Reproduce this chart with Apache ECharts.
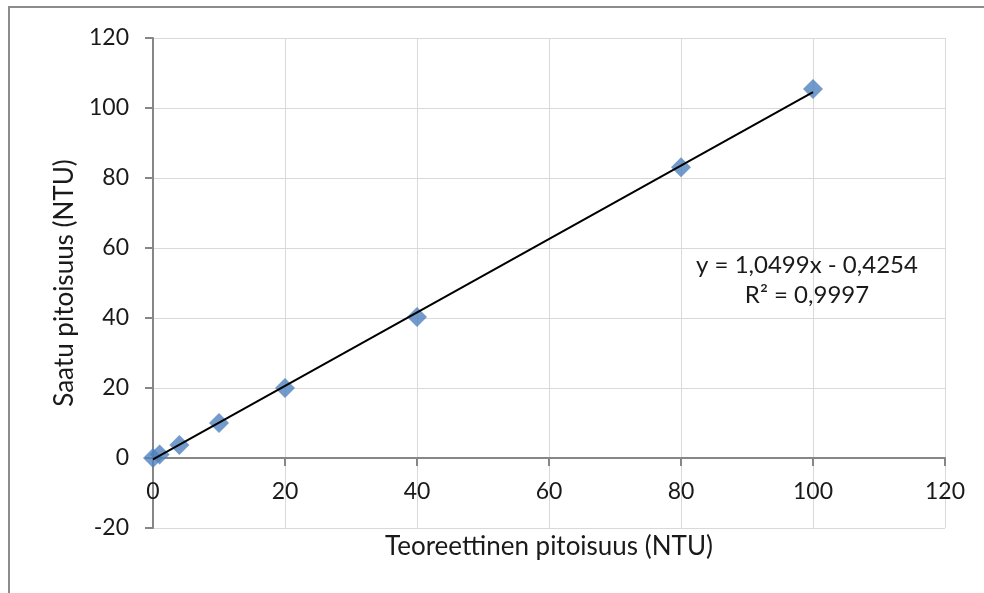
<!DOCTYPE html>
<html><head><meta charset="utf-8">
<script src="https://cdn.jsdelivr.net/npm/echarts@6/dist/echarts.min.js"></script>
<style>html,body{margin:0;padding:0;background:#fff}#c{width:984px;height:593px}</style>
</head><body><div id="c"></div>
<script>
const xValues = [0, 1, 4, 10, 20, 40, 80, 100];
const yValues = [0, 1, 3.7, 10, 20, 40.3, 83.1, 105.4];
const slope = 1.0499, intercept = -0.4254;
const trendX = [0, 100];
const xTicks = [0, 20, 40, 60, 80, 100, 120];
const yTicks = [-20, 0, 20, 40, 60, 80, 100, 120];
const xTitle = 'Teoreettinen pitoisuus (NTU)';
const yTitle = 'Saatu pitoisuus (NTU)';
const eqLines = ['y = 1,0499x - 0,4254', 'R² = 0,9997'];

const FONT = 'Lato';
const TXT = '#1a1a1a';
const chart = echarts.init(document.getElementById('c'), null, {renderer: 'canvas'});
const lineSty = {color: '#868686', width: 2};
chart.setOption({
  animation: false,
  grid: {left: 153, top: 38, right: 39, bottom: 65, containLabel: false},
  xAxis: {
    type: 'value', min: xTicks[0], max: xTicks[xTicks.length - 1], interval: 20,
    offset: -70,
    axisLine: {show: true, onZero: false, lineStyle: lineSty},
    axisTick: {show: true, length: 8, lineStyle: lineSty},
    splitLine: {show: true, lineStyle: {color: '#d9d9d9', width: 1}},
    axisLabel: {color: TXT, fontFamily: FONT, fontSize: 23, margin: 22},
    name: xTitle, nameLocation: 'middle', nameGap: 76,
    nameTextStyle: {color: TXT, fontFamily: FONT, fontSize: 26}
  },
  yAxis: {
    type: 'value', min: yTicks[0], max: yTicks[yTicks.length - 1], interval: 20,
    axisLine: {show: true, onZero: false, lineStyle: lineSty},
    axisTick: {show: true, length: 8, lineStyle: lineSty},
    splitLine: {show: true, lineStyle: {color: '#d9d9d9', width: 1}},
    axisLabel: {color: TXT, fontFamily: FONT, fontSize: 23, margin: 24},
    name: yTitle, nameLocation: 'middle', nameGap: 75,
    nameTextStyle: {color: TXT, fontFamily: FONT, fontSize: 26}
  },
  series: [
    {
      type: 'scatter', data: xValues.map((x, i) => [x, yValues[i]]),
      symbol: 'diamond', symbolSize: 20,
      itemStyle: {color: '#4F81BD'}, z: 2
    },
    {
      type: 'line', data: trendX.map(x => [x, slope * x + intercept]),
      symbol: 'none', lineStyle: {color: '#000', width: 2}, z: 3
    }
  ],
  graphic: [
    {type: 'rect', shape: {x: 9, y: 7, width: 1000, height: 700}, style: {fill: 'none', stroke: '#8c8c8c', lineWidth: 2}, silent: true, z: -10},
    {type: 'text', x: 807, y: 265, style: {text: eqLines[0], align: 'center', verticalAlign: 'middle', font: '24px ' + FONT, fill: TXT}, z: 10},
    {type: 'text', x: 807, y: 295, style: {text: eqLines[1], align: 'center', verticalAlign: 'middle', font: '24px ' + FONT, fill: TXT}, z: 10}
  ]
});
</script></body></html>
